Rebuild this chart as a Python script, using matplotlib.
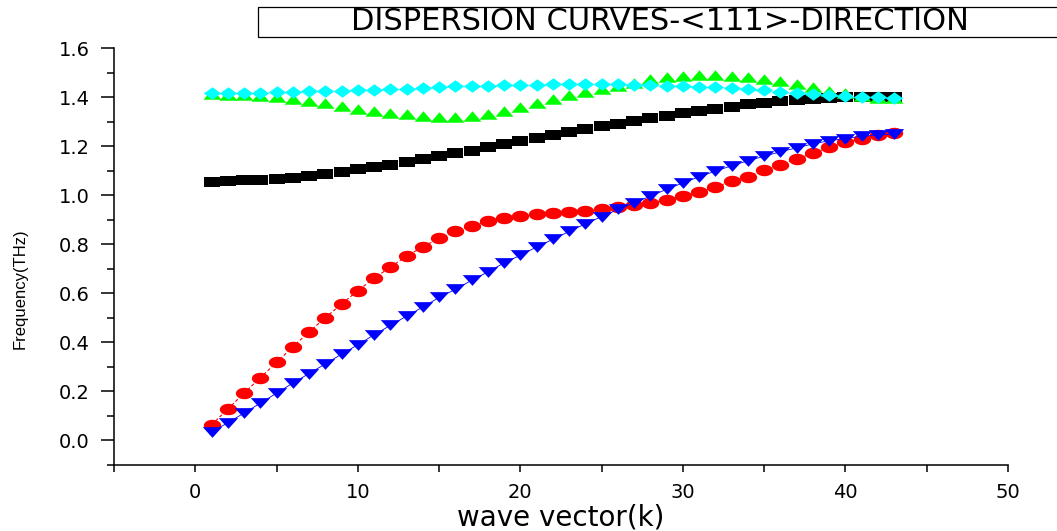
from matplotlib import pyplot as plt
from matplotlib.patches import Rectangle
from matplotlib.ticker import MultipleLocator, FormatStrFormatter
import numpy as np

# wave vector index along <111>
k = list(range(1, 44))

# branch frequencies (THz)
freq_black = [1.054, 1.057, 1.060, 1.063, 1.067, 1.072, 1.078, 1.086, 1.094, 1.105,
              1.114, 1.124, 1.135, 1.146, 1.158, 1.170, 1.182, 1.195, 1.207, 1.219,
              1.233, 1.244, 1.257, 1.268, 1.281, 1.292, 1.303, 1.314, 1.324, 1.335,
              1.343, 1.352, 1.360, 1.370, 1.377, 1.384, 1.388, 1.392, 1.396, 1.399,
              1.401, 1.401, 1.401]
freq_red = [0.064, 0.128, 0.193, 0.256, 0.318, 0.382, 0.442, 0.501, 0.556, 0.611,
            0.661, 0.707, 0.751, 0.790, 0.824, 0.853, 0.876, 0.893, 0.905, 0.916,
            0.922, 0.927, 0.931, 0.936, 0.945, 0.950, 0.959, 0.969, 0.981, 0.997,
            1.012, 1.034, 1.056, 1.076, 1.101, 1.124, 1.148, 1.171, 1.195, 1.215,
            1.231, 1.245, 1.252]
freq_blue = [0.035, 0.072, 0.112, 0.152, 0.193, 0.234, 0.273, 0.312, 0.352, 0.390,
             0.431, 0.469, 0.507, 0.544, 0.583, 0.616, 0.653, 0.687, 0.724, 0.755,
             0.789, 0.820, 0.852, 0.883, 0.913, 0.942, 0.969, 0.996, 1.024, 1.050,
             1.075, 1.098, 1.120, 1.140, 1.159, 1.177, 1.193, 1.209, 1.222, 1.231,
             1.240, 1.246, 1.249]
freq_green = [1.412, 1.410, 1.407, 1.404, 1.399, 1.391, 1.382, 1.374, 1.363, 1.353,
              1.343, 1.336, 1.329, 1.324, 1.320, 1.320, 1.324, 1.331, 1.342, 1.358,
              1.374, 1.391, 1.407, 1.422, 1.434, 1.446, 1.459, 1.472, 1.483, 1.487,
              1.490, 1.490, 1.487, 1.483, 1.473, 1.465, 1.453, 1.440, 1.426, 1.415,
              1.404, 1.398, 1.396]
freq_cyan = [1.418, 1.418, 1.418, 1.418, 1.419, 1.420, 1.423, 1.424, 1.426, 1.427,
             1.430, 1.432, 1.433, 1.437, 1.442, 1.444, 1.445, 1.447, 1.449, 1.449,
             1.450, 1.452, 1.453, 1.453, 1.453, 1.452, 1.450, 1.449, 1.446, 1.445,
             1.442, 1.439, 1.435, 1.431, 1.427, 1.422, 1.418, 1.412, 1.407, 1.404,
             1.400, 1.399, 1.397]

# flattened marker shapes
t = np.linspace(0, 2 * np.pi, 41)
m_ellipse = list(zip(np.cos(t), 0.66 * np.sin(t)))
m_rect = [(-1, -0.64), (1, -0.64), (1, 0.64), (-1, 0.64), (-1, -0.64)]
m_tri_down = [(-1, 0.55), (1, 0.55), (0, -0.55), (-1, 0.55)]
m_tri_up = [(-1, -0.58), (1, -0.58), (0, 0.58), (-1, -0.58)]
m_diamond = [(-1, 0), (0, 0.72), (1, 0), (0, -0.72), (-1, 0)]

plt.rcParams['font.family'] = ['DejaVu Sans']
fig = plt.figure(figsize=(10.57, 5.31), dpi=100)
ax = fig.add_axes([0.1079, 0.1243, 0.8457, 0.7853])

ax.plot(k, freq_black, ls='none', marker=m_rect, ms=11, color='black', mew=0)
ax.plot(k, freq_red, ls='--', lw=0.8, dashes=(3, 2), marker=m_ellipse, ms=12.5,
        color='#ff0000', mew=0)
ax.plot(k, freq_blue, ls='-', lw=0.6, marker=m_tri_down, ms=14, color='#0000ff', mew=0)
ax.plot(k, freq_green, ls='none', marker=m_tri_up, ms=13, color='#00ff00', mew=0)
ax.plot(k, freq_cyan, ls='none', marker=m_diamond, ms=12.5, color='#00ffff', mew=0)

ax.set_xlim(-5, 50)
ax.set_ylim(-0.1, 1.6)
ax.xaxis.set_major_locator(MultipleLocator(10))
ax.xaxis.set_minor_locator(MultipleLocator(5))
ax.yaxis.set_major_locator(MultipleLocator(0.2))
ax.yaxis.set_minor_locator(MultipleLocator(0.1))
ax.yaxis.set_major_formatter(FormatStrFormatter('%.1f'))

for side in ('top', 'right'):
    ax.spines[side].set_visible(False)
for side in ('left', 'bottom'):
    ax.spines[side].set_linewidth(1.1)

ax.tick_params(axis='y', which='major', direction='out', length=9.5, width=1.1,
               labelsize=14, pad=8)
ax.tick_params(axis='y', which='minor', direction='out', length=5, width=1.1)
ax.tick_params(axis='x', which='both', direction='out', length=5, width=1.1,
               labelsize=14, pad=8)

ax.set_xlabel('wave vector(k)', fontsize=20)
ax.xaxis.set_label_coords(0.5, -0.093)
ax.set_ylabel('Frequency(THz)', fontsize=12, family=['Liberation Sans'])
ax.yaxis.set_label_coords(-0.097, 0.424)

# title box running off the right edge
fig.patches.append(Rectangle((258 / 1057, 1 - 37 / 531), 1.0, 30 / 531,
                             transform=fig.transFigure, facecolor='white',
                             edgecolor='black', lw=0.9))
fig.text(660 / 1057, 1 - 21.5 / 531, 'DISPERSION CURVES-<111>-DIRECTION',
         ha='center', va='center', fontsize=22)

fig.savefig('out.png', dpi=100)
